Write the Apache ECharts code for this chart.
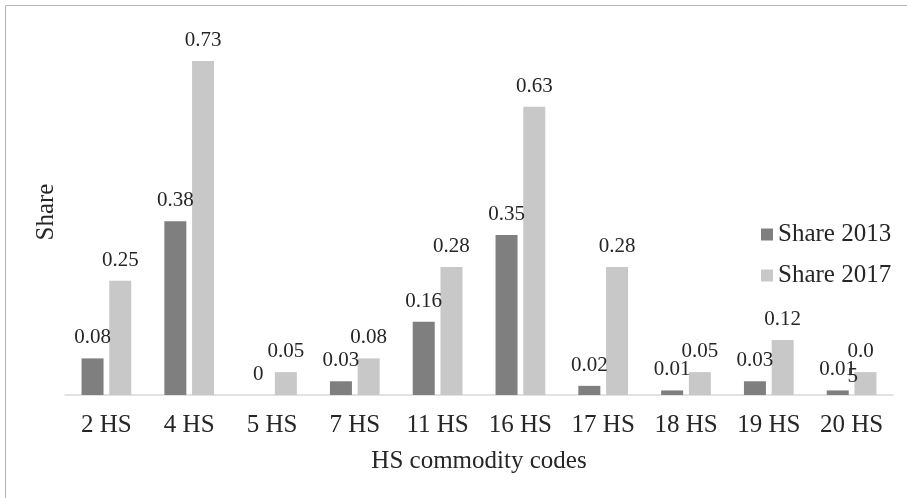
<!DOCTYPE html>
<html>
<head>
<meta charset="utf-8">
<script src="https://cdn.jsdelivr.net/npm/echarts@6/dist/echarts.min.js"></script>
<style>
  html, body { margin: 0; padding: 0; background: #fff; }
  #chart { width: 907px; height: 498px; }
</style>
</head>
<body>
<div id="chart"></div>
<script>
// HS commodity groups and their shares
const categories = ['2 HS', '4 HS', '5 HS', '7 HS', '11 HS', '16 HS', '17 HS', '18 HS', '19 HS', '20 HS'];
const share2013 = [0.08, 0.38, 0, 0.03, 0.16, 0.35, 0.02, 0.01, 0.03, 0.01];
const share2017 = [0.25, 0.73, 0.05, 0.08, 0.28, 0.63, 0.28, 0.05, 0.12, 0.05];
const seriesNames = ['Share 2013', 'Share 2017'];

const FONT = '"Liberation Serif", "Times New Roman", serif';
const TEXT = '#262626';

const chart = echarts.init(document.getElementById('chart'), null, { renderer: 'canvas' });

// The last 2017 label wraps onto two lines
const data2017 = share2017.map((v, i) => {
  if (i === share2017.length - 1) {
    return {
      value: v,
      label: { formatter: '0.0\n5', align: 'left', offset: [-18, 27], lineHeight: 25 }
    };
  }
  return v;
});

const barLabel = {
  show: true,
  position: 'top',
  distance: 10,
  fontFamily: FONT,
  fontSize: 21,
  color: TEXT
};

chart.setOption({
  backgroundColor: '#ffffff',
  animation: false,
  graphic: [{
    type: 'rect',
    shape: { x: 5.5, y: 5.5, width: 1200, height: 1200 },
    style: { fill: 'none', stroke: '#b4b4b4', lineWidth: 1 },
    silent: true
  }],
  grid: { left: 65, right: 14, top: 29, bottom: 103 },
  legend: {
    orient: 'vertical',
    left: 756,
    top: 217,
    itemWidth: 12,
    itemHeight: 12,
    itemGap: 16,
    icon: 'rect',
    textStyle: { fontFamily: FONT, fontSize: 25, color: TEXT },
    data: seriesNames
  },
  xAxis: {
    type: 'category',
    data: categories,
    name: 'HS commodity codes',
    nameLocation: 'middle',
    nameGap: 54,
    nameTextStyle: { fontFamily: FONT, fontSize: 25, color: TEXT },
    axisLine: { lineStyle: { color: '#d9d9d9', width: 1.5 } },
    axisTick: { show: false },
    axisLabel: { fontFamily: FONT, fontSize: 25, color: TEXT, margin: 18, interval: 0 }
  },
  yAxis: {
    type: 'value',
    min: 0,
    max: 0.8,
    name: 'Share',
    nameLocation: 'middle',
    nameRotate: 90,
    nameGap: 6,
    nameTextStyle: { fontFamily: FONT, fontSize: 25, color: TEXT },
    axisLine: { show: false },
    axisTick: { show: false },
    axisLabel: { show: false },
    splitLine: { show: false }
  },
  series: [
    {
      name: seriesNames[0],
      type: 'bar',
      data: share2013,
      barWidth: 22,
      barGap: '26%',
      itemStyle: { color: '#7f7f7f' },
      label: barLabel
    },
    {
      name: seriesNames[1],
      type: 'bar',
      data: data2017,
      barWidth: 22,
      barGap: '26%',
      itemStyle: { color: '#c8c8c8' },
      label: barLabel
    }
  ]
});
</script>
</body>
</html>
